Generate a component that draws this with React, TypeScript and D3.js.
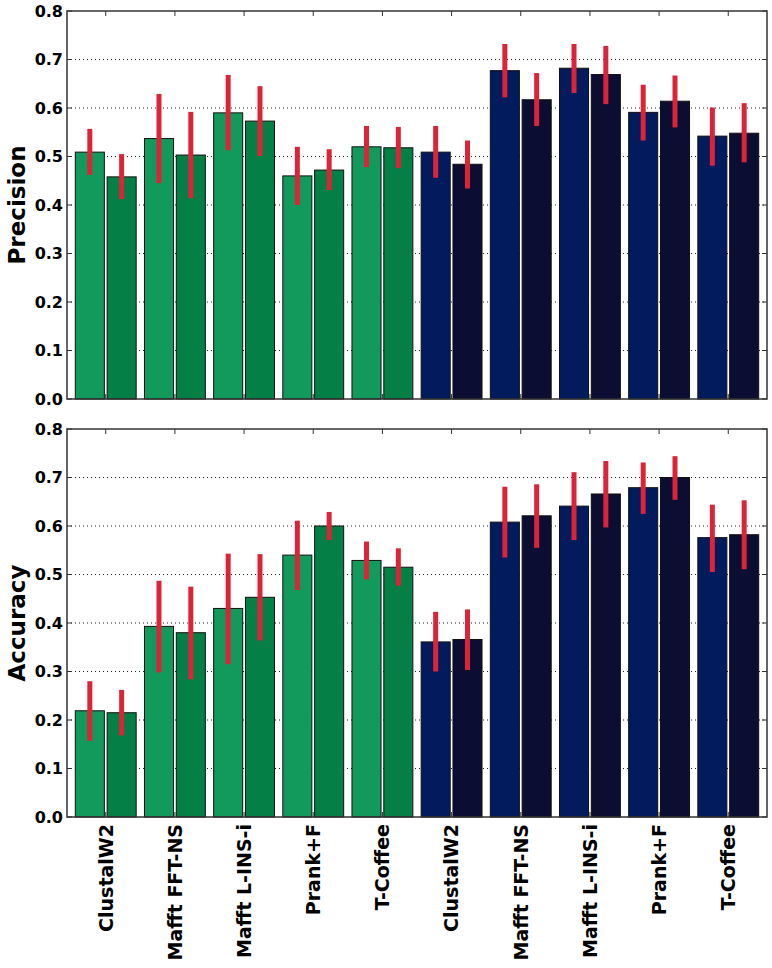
import React from "react";
import * as d3 from "d3";

const categories = [
  "ClustalW2", "Mafft FFT-NS", "Mafft L-INS-i", "Prank+F", "T-Coffee",
  "ClustalW2", "Mafft FFT-NS", "Mafft L-INS-i", "Prank+F", "T-Coffee",
];
const yTicks = [0, 0.1, 0.2, 0.3, 0.4, 0.5, 0.6, 0.7, 0.8];

// Precision panel
const precisionMean1 = [0.509, 0.537, 0.590, 0.460, 0.520, 0.509, 0.677, 0.682, 0.591, 0.542];
const precisionLow1 = [0.462, 0.445, 0.513, 0.400, 0.478, 0.456, 0.622, 0.631, 0.533, 0.481];
const precisionHigh1 = [0.557, 0.629, 0.668, 0.520, 0.563, 0.563, 0.732, 0.732, 0.648, 0.601];
const precisionMean2 = [0.458, 0.503, 0.573, 0.472, 0.518, 0.484, 0.617, 0.669, 0.614, 0.548];
const precisionLow2 = [0.412, 0.414, 0.501, 0.431, 0.476, 0.434, 0.563, 0.608, 0.560, 0.488];
const precisionHigh2 = [0.505, 0.592, 0.645, 0.515, 0.561, 0.533, 0.672, 0.728, 0.667, 0.610];

// Accuracy panel
const accuracyMean1 = [0.219, 0.393, 0.430, 0.540, 0.529, 0.361, 0.608, 0.641, 0.679, 0.576];
const accuracyLow1 = [0.157, 0.298, 0.315, 0.468, 0.490, 0.300, 0.535, 0.571, 0.625, 0.505];
const accuracyHigh1 = [0.280, 0.487, 0.543, 0.611, 0.568, 0.423, 0.681, 0.711, 0.731, 0.644];
const accuracyMean2 = [0.215, 0.380, 0.453, 0.600, 0.515, 0.366, 0.621, 0.666, 0.700, 0.582];
const accuracyLow2 = [0.168, 0.284, 0.364, 0.571, 0.477, 0.303, 0.555, 0.597, 0.654, 0.511];
const accuracyHigh2 = [0.262, 0.475, 0.542, 0.629, 0.554, 0.428, 0.686, 0.734, 0.744, 0.653];

const colorsBar1 = ["#129a5d", "#129a5d", "#129a5d", "#129a5d", "#129a5d", "#021b5c", "#021b5c", "#021b5c", "#021b5c", "#021b5c"];
const colorsBar2 = ["#047f45", "#047f45", "#047f45", "#047f45", "#047f45", "#0c0d32", "#0c0d32", "#0c0d32", "#0c0d32", "#0c0d32"];

const FONT = "'DejaVu Sans', sans-serif";
const LEFT = 67;
const RIGHT = 767;

const x = d3.scaleLinear().domain([-0.56, 9.56]).range([LEFT, RIGHT]);
const BAR_W = 0.42;
const BAR_GAP = 0.02;

type PanelProps = {
  top: number;
  bottom: number;
  label: string;
  mean1: number[]; low1: number[]; high1: number[];
  mean2: number[]; low2: number[]; high2: number[];
};

function Panel(p: PanelProps) {
  const y = d3.scaleLinear().domain([0, 0.8]).range([p.bottom, p.top]);
  const series = [
    { mean: p.mean1, low: p.low1, high: p.high1, off: -BAR_GAP - BAR_W, colors: colorsBar1 },
    { mean: p.mean2, low: p.low2, high: p.high2, off: BAR_GAP, colors: colorsBar2 },
  ];
  return (
    <g>
      {yTicks.slice(1, -1).map((t) => (
        <line key={"g" + t} x1={LEFT} x2={RIGHT} y1={y(t)} y2={y(t)}
          stroke="#222" strokeWidth={1} strokeDasharray="1,3" />
      ))}
      {series.map((s, si) =>
        s.mean.map((v, i) => (
          <rect key={"b" + si + "-" + i}
            x={x(i + s.off)} y={y(v)}
            width={x(i + s.off + BAR_W) - x(i + s.off)}
            height={y(0) - y(v)}
            fill={s.colors[i]} stroke="#111" strokeWidth={1} />
        ))
      )}
      {series.map((s, si) =>
        s.mean.map((v, i) => (
          <line key={"e" + si + "-" + i}
            x1={x(i + s.off + BAR_W / 2)} x2={x(i + s.off + BAR_W / 2)}
            y1={y(s.low[i])} y2={y(s.high[i])}
            stroke="#dc2439" strokeWidth={5} />
        ))
      )}
      {categories.map((c, i) => (
        <g key={"t" + i}>
          <line x1={x(i)} x2={x(i)} y1={p.top} y2={p.top + 5} stroke="#333" strokeWidth={1} />
          <line x1={x(i)} x2={x(i)} y1={p.bottom} y2={p.bottom - 5} stroke="#333" strokeWidth={1} />
        </g>
      ))}
      {yTicks.map((t) => (
        <g key={"y" + t}>
          <line x1={LEFT} x2={LEFT + 5} y1={y(t)} y2={y(t)} stroke="#333" strokeWidth={1} />
          <line x1={RIGHT} x2={RIGHT - 5} y1={y(t)} y2={y(t)} stroke="#333" strokeWidth={1} />
          <text x={63} y={y(t)} dy="0.36em" textAnchor="end" fontFamily={FONT}
            fontWeight="bold" fontSize={16} fill="#000">{t.toFixed(1)}</text>
        </g>
      ))}
      <rect x={LEFT} y={p.top} width={RIGHT - LEFT} height={p.bottom - p.top}
        fill="none" stroke="#333" strokeWidth={1.5} />
      <text transform={`translate(25,${(p.top + p.bottom) / 2}) rotate(-90)`}
        textAnchor="middle" fontFamily={FONT} fontWeight="bold" fontSize={23} fill="#000">
        {p.label}
      </text>
    </g>
  );
}

export default function App() {
  return (
    <svg width={772} height={968} style={{ position: "absolute", left: 0, top: 0, background: "#fff" }}>
      <rect width={772} height={968} fill="#fff" />
      <Panel top={11} bottom={399} label="Precision"
        mean1={precisionMean1} low1={precisionLow1} high1={precisionHigh1}
        mean2={precisionMean2} low2={precisionLow2} high2={precisionHigh2} />
      <Panel top={429} bottom={817} label="Accuracy"
        mean1={accuracyMean1} low1={accuracyLow1} high1={accuracyHigh1}
        mean2={accuracyMean2} low2={accuracyLow2} high2={accuracyHigh2} />
      {categories.map((c, i) => (
        <text key={"xl" + i}
          transform={`translate(${x(i)},824) rotate(-90)`}
          textAnchor="end" dy="0.36em" fontFamily={FONT} fontWeight="bold" fontSize={19} fill="#000">
          {c}
        </text>
      ))}
    </svg>
  );
}
